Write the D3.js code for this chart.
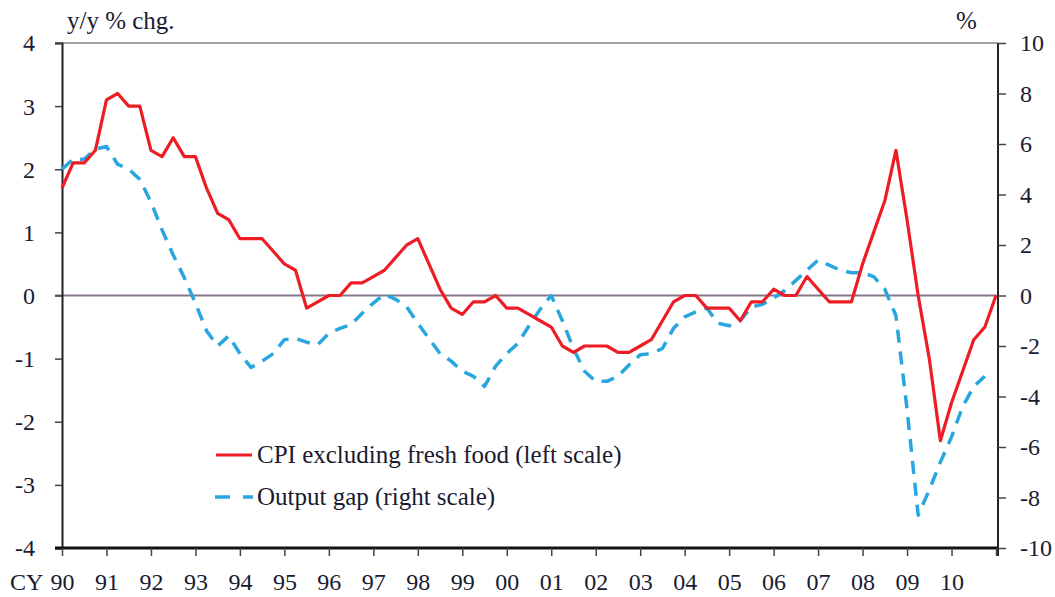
<!DOCTYPE html>
<html><head><meta charset="utf-8">
<script src="https://cdnjs.cloudflare.com/ajax/libs/d3/7.8.5/d3.min.js"></script>
<style>
html,body{margin:0;padding:0;background:#fff;}
svg text{font-family:"Liberation Serif","Times New Roman",serif;fill:#1a1a30;}
</style></head>
<body>
<svg id="c" width="1055" height="597"></svg>
<script>
// Quarterly data, 1990Q1 onward
const cpiExFreshFood = [1.7,2.1,2.1,2.3,3.1,3.2,3.0,3.0,2.3,2.2,2.5,2.2,2.2,1.7,1.3,1.2,0.9,0.9,0.9,0.7,0.5,0.4,-0.2,-0.1,0.0,0.0,0.2,0.2,0.3,0.4,0.6,0.8,0.9,0.5,0.1,-0.2,-0.3,-0.1,-0.1,0.0,-0.2,-0.2,-0.3,-0.4,-0.5,-0.8,-0.9,-0.8,-0.8,-0.8,-0.9,-0.9,-0.8,-0.7,-0.4,-0.1,0.0,0.0,-0.2,-0.2,-0.2,-0.4,-0.1,-0.1,0.1,0.0,0.0,0.3,0.1,-0.1,-0.1,-0.1,0.5,1.0,1.5,2.3,1.2,0.0,-1.0,-2.3,-1.7,-1.2,-0.7,-0.5,0.0];
const outputGap = [5.0,5.4,5.4,5.8,5.9,5.2,5.0,4.6,3.7,2.6,1.6,0.7,-0.3,-1.4,-2.0,-1.6,-2.3,-2.85,-2.6,-2.3,-1.75,-1.7,-1.85,-1.95,-1.5,-1.3,-1.15,-0.7,-0.3,0.05,-0.15,-0.45,-1.1,-1.7,-2.3,-2.6,-3.0,-3.2,-3.6,-2.8,-2.3,-1.9,-1.2,-0.55,0.0,-1.0,-2.1,-3.0,-3.4,-3.4,-3.2,-2.75,-2.35,-2.3,-2.1,-1.3,-0.85,-0.65,-0.5,-1.1,-1.2,-1.0,-0.45,-0.35,-0.1,0.2,0.6,1.0,1.4,1.2,1.0,0.9,0.9,0.75,0.25,-0.8,-4.5,-8.7,-7.7,-6.6,-5.6,-4.4,-3.6,-3.2,null];
const yearLabels = ["90","91","92","93","94","95","96","97","98","99","00","01","02","03","04","05","06","07","08","09","10",""];
const leftTicks = [-4,-3,-2,-1,0,1,2,3,4];
const rightTicks = [-10,-8,-6,-4,-2,0,2,4,6,8,10];
const legendLabels = ["CPI excluding fresh food (left scale)","Output gap (right scale)"];

const svg = d3.select("#c");
const L = 62, R = 998, T = 43, B = 548;
const x = d3.scaleLinear().domain([0, 84]).range([L, 996]);
const yL = d3.scaleLinear().domain([-4, 4]).range([B, T]);
const yR = d3.scaleLinear().domain([-10, 10]).range([B, T]);
const fmt = d => String(d);

// top grey line (4 / 10 level)
svg.append("line").attr("x1", 55).attr("x2", R).attr("y1", yL(4)).attr("y2", yL(4))
  .attr("stroke", "#a3a3a3").attr("stroke-width", 2);
// zero line
svg.append("line").attr("x1", 55).attr("x2", R).attr("y1", yL(0)).attr("y2", yL(0))
  .attr("stroke", "#85778a").attr("stroke-width", 1.8);

// left axis
const gl = svg.append("g").attr("transform", `translate(${L},0)`)
  .call(d3.axisLeft(yL).tickValues(leftTicks).tickSize(7).tickPadding(20).tickFormat(fmt));
gl.select(".domain").attr("stroke", "#222").attr("stroke-width", 2);
gl.selectAll(".tick line").attr("stroke", "#444").attr("stroke-width", 1.5);
gl.selectAll("text").style("font-size", "24px").attr("dy", "0.33em");

// right axis
const gr = svg.append("g").attr("transform", `translate(${R},0)`)
  .call(d3.axisRight(yR).tickValues(rightTicks).tickSize(8).tickPadding(14).tickFormat(fmt));
gr.select(".domain").attr("stroke", "#222").attr("stroke-width", 2).attr("d", `M0,${T}V${B + 8}`);
gr.selectAll(".tick line").attr("stroke", "#444").attr("stroke-width", 1.5);
gr.selectAll("text").style("font-size", "24px").attr("dy", "0.33em");

// bottom axis
const xt = d3.range(0, 85, 4);
const gb = svg.append("g").attr("transform", `translate(0,${B})`)
  .call(d3.axisBottom(x).tickValues(xt).tickSize(8).tickFormat((d, i) => yearLabels[i]));
gb.select(".domain").attr("stroke", "#111").attr("stroke-width", 3).attr("d", `M55,0H${R}`);
gb.selectAll(".tick line").attr("stroke", "#444").attr("stroke-width", 1.5);
gb.selectAll("text").style("font-size", "24px").attr("y", 42).attr("dy", 0);
svg.append("text").attr("x", 10).attr("y", B + 42).style("font-size", "24px").text("CY");

// unit labels
svg.append("text").attr("x", 67).attr("y", 29).style("font-size", "25px").text("y/y % chg.");
svg.append("text").attr("x", 956).attr("y", 29).style("font-size", "25px").text("%");

// series
const gapLine = d3.line().defined(d => d != null).x((d, i) => x(i)).y(d => yR(d));
svg.append("path").datum(outputGap).attr("d", gapLine)
  .attr("fill", "none").attr("stroke", "#2aa6de").attr("stroke-width", 3.5)
  .attr("stroke-dasharray", "13,9").attr("stroke-linejoin", "round");

const cpiLine = d3.line().x((d, i) => x(i)).y(d => yL(d));
svg.append("path").datum(cpiExFreshFood).attr("d", cpiLine)
  .attr("fill", "none").attr("stroke", "#ee1c24").attr("stroke-width", 3.2)
  .attr("stroke-linejoin", "round");

// legend
svg.append("line").attr("x1", 216).attr("x2", 252).attr("y1", 455).attr("y2", 455)
  .attr("stroke", "#ee1c24").attr("stroke-width", 3.2);
svg.append("text").attr("x", 257).attr("y", 463).style("font-size", "25px").text(legendLabels[0]);
svg.append("line").attr("x1", 215).attr("x2", 253).attr("y1", 497).attr("y2", 497)
  .attr("stroke", "#2aa6de").attr("stroke-width", 3.5).attr("stroke-dasharray", "15,13");
svg.append("text").attr("x", 257).attr("y", 505).style("font-size", "25px").text(legendLabels[1]);
</script>
</body></html>
